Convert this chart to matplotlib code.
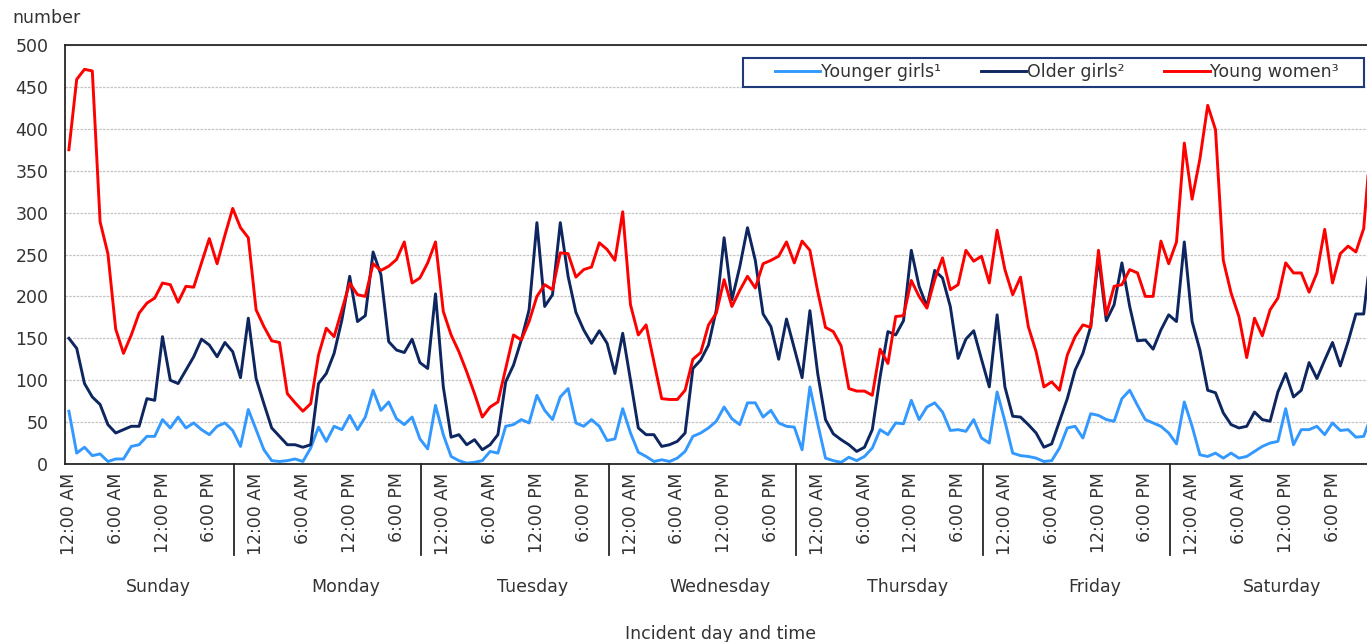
import matplotlib.pyplot as plt
from matplotlib.lines import Line2D
from matplotlib.patches import Rectangle

# hourly counts, Sunday 12:00 AM through Saturday 11:00 PM
younger_girls = [
    63, 13, 20, 10, 12, 3, 6, 6, 21, 23, 33, 33, 53, 43, 56, 43, 49, 41, 35, 45, 49, 40, 21, 65,
    41, 17, 4, 3, 4, 6, 3, 19, 44, 27, 45, 41, 58, 41, 56, 88, 64, 74, 54, 47, 56, 30, 18, 70,
    35, 9, 4, 1, 2, 4, 15, 13, 45, 47, 53, 49, 82, 64, 53, 80, 90, 49, 45, 53, 45, 28, 30, 66,
    37, 14, 9, 3, 5, 3, 7, 15, 33, 37, 43, 51, 68, 54, 47, 73, 73, 56, 64, 49, 45, 44, 17, 92,
    48, 7, 4, 2, 8, 4, 9, 19, 41, 35, 49, 48, 76, 53, 68, 73, 62, 40, 41, 39, 53, 31, 25, 86,
    51, 13, 10, 9, 7, 3, 4, 19, 43, 45, 31, 60, 58, 53, 51, 78, 88, 70, 53, 49, 45, 37, 24, 74,
    45, 11, 9, 13, 7, 13, 7, 9, 15, 21, 25, 27, 66, 23, 41, 41, 45, 35, 49, 40, 41, 32, 33, 58,
]
older_girls = [
    150, 138, 96, 80, 71, 47, 37, 41, 45, 45, 78, 76, 152, 100, 96, 112, 128, 149, 142, 128, 145, 134, 103, 174,
    102, 72, 43, 33, 23, 23, 20, 23, 96, 108, 132, 172, 224, 170, 177, 253, 226, 146, 136, 133, 149, 121, 114, 203,
    92, 32, 35, 23, 29, 17, 23, 35, 98, 118, 148, 184, 288, 188, 202, 288, 224, 181, 160, 144, 159, 144, 108, 156,
    100, 43, 35, 35, 21, 23, 27, 37, 114, 124, 142, 184, 270, 196, 235, 282, 243, 179, 164, 125, 173, 138, 103, 183,
    108, 53, 36, 29, 23, 15, 20, 41, 104, 158, 154, 171, 255, 212, 188, 231, 222, 188, 126, 149, 159, 125, 92, 178,
    92, 57, 56, 47, 37, 20, 24, 51, 78, 112, 132, 164, 247, 171, 190, 240, 188, 147, 148, 137, 160, 178, 170, 265,
    170, 136, 88, 85, 61, 47, 43, 45, 62, 53, 51, 86, 108, 80, 88, 121, 102, 124, 145, 117, 146, 179, 179, 258,
]
young_women = [
    375, 459, 471, 469, 289, 251, 161, 132, 154, 180, 192, 198, 216, 214, 193, 212, 211, 240, 269, 239, 273, 305, 282, 270,
    184, 164, 147, 145, 84, 73, 63, 72, 130, 162, 152, 184, 216, 202, 200, 239, 231, 236, 244, 265, 216, 222, 240, 265,
    182, 154, 134, 110, 84, 56, 68, 74, 114, 154, 148, 170, 200, 214, 208, 252, 251, 223, 232, 235, 264, 256, 243, 301,
    190, 154, 166, 122, 78, 77, 77, 88, 125, 133, 166, 180, 220, 188, 207, 224, 210, 239, 243, 248, 265, 240, 266, 255,
    206, 163, 158, 141, 90, 87, 87, 82, 137, 120, 176, 177, 219, 200, 186, 220, 246, 208, 214, 255, 242, 248, 216, 279,
    232, 202, 223, 164, 134, 92, 98, 88, 130, 152, 166, 163, 255, 178, 212, 214, 232, 228, 200, 200, 266, 239, 265, 383,
    316, 364, 428, 399, 243, 204, 176, 127, 174, 153, 184, 198, 240, 228, 228, 205, 228, 280, 216, 251, 260, 253, 281, 395,
]
days = ['Sunday', 'Monday', 'Tuesday', 'Wednesday', 'Thursday', 'Friday', 'Saturday']
hour_labels = ['12:00 AM', '6:00 AM', '12:00 PM', '6:00 PM']

W, H = 1367, 642
fs = 12.5
txt = '#333333'
plt.rcParams['font.family'] = 'DejaVu Sans'

fig = plt.figure(figsize=(W / 100, H / 100), dpi=100)
# plot area runs a bit past the right edge of the picture (cropped like the source)
ax = fig.add_axes([65 / W, 1 - 464 / H, 1310.4 / W, 419 / H])

x = list(range(len(young_women)))
ax.plot(x, younger_girls, color='#3399ff', lw=2.1, label='Younger girls¹')
ax.plot(x, older_girls, color='#0d2660', lw=2.1, label='Older girls²')
ax.plot(x, young_women, color='#ff0000', lw=2.1, label='Young women³')

ax.set_xlim(-0.5, len(x) - 0.5)
ax.set_ylim(0, 500)
ax.set_yticks(range(0, 501, 50))
ax.yaxis.grid(True, color='#c4c4c4', lw=0.9, ls=(0, (2, 1)))
ax.set_axisbelow(True)

ticks = list(range(0, len(x), 6))
ax.set_xticks(ticks)
ax.set_xticklabels([hour_labels[(t // 6) % 4] for t in ticks], rotation=90, va='top', ha='center')
ax.tick_params(axis='both', length=0, labelsize=fs, labelcolor=txt)
ax.tick_params(axis='y', pad=12)
ax.tick_params(axis='x', pad=6)

for s in ['left', 'top', 'bottom']:
    ax.spines[s].set_color('#262626')
    ax.spines[s].set_linewidth(1.3)
ax.spines['right'].set_visible(False)

# day separators and day names below the hour labels
trans = ax.get_xaxis_transform()
for k in range(len(days) - 1):
    sx = 21.2 + 24 * k
    ax.add_line(Line2D([sx, sx], [0, -0.218], transform=trans, color='#262626',
                       lw=1.3, clip_on=False))
for k, d in enumerate(days):
    ax.text(24 * k + 11.5, -0.2936, d, transform=trans, ha='center', va='center',
            fontsize=fs, color=txt)

ax.text(0.5, -0.405, 'Incident day and time', transform=ax.transAxes, ha='center',
        va='center', fontsize=fs, color=txt)
fig.text(12 / W, 1 - 18 / H, 'number', ha='left', va='center', fontsize=fs, color=txt)

# legend box drawn separately so it can have wide side margins
box = Rectangle((0.5174, 0.8998), 0.9913 - 0.5174, 0.969 - 0.8998, transform=ax.transAxes,
                facecolor='white', edgecolor='#1f3a78', lw=1.5, zorder=5)
ax.add_patch(box)
leg = ax.legend(loc='center left', bbox_to_anchor=(0.5418, 0.9344), ncol=3, fontsize=fs,
                frameon=False, handlelength=2.6, handletextpad=0.05,
                columnspacing=2.3, borderaxespad=0, borderpad=0)
leg.set_zorder(6)
for t in leg.get_texts():
    t.set_color(txt)

fig.savefig('out.png', dpi=100)
plt.close(fig)
